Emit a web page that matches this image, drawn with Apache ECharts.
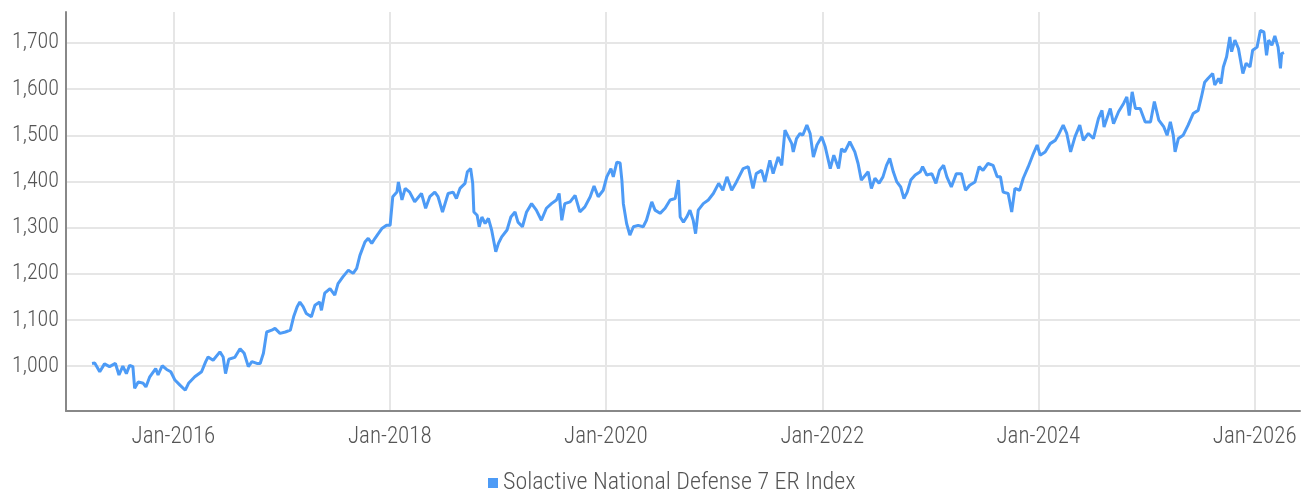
<!DOCTYPE html>
<html>
<head>
<meta charset="utf-8">
<script src="https://cdn.jsdelivr.net/npm/echarts@6/dist/echarts.min.js"></script>
<style>html,body{margin:0;padding:0;background:#fff;}#c{width:1306px;height:492px;}</style>
</head>
<body>
<div id="c"></div>
<script>
const seriesName = 'Solactive National Defense 7 ER Index';
const dates = [
'2015-04-01','2015-04-10','2015-04-27','2015-05-13','2015-05-30','2015-06-19','2015-07-01','2015-07-14','2015-07-26','2015-08-06',
'2015-08-17','2015-08-23','2015-09-04','2015-09-21','2015-09-30','2015-10-13','2015-11-02','2015-11-10','2015-11-24','2015-12-09',
'2015-12-23','2015-12-27','2016-01-06','2016-01-23','2016-02-10','2016-02-21','2016-03-13','2016-04-05','2016-04-19','2016-04-27',
'2016-05-14','2016-06-06','2016-06-17','2016-06-25','2016-07-06','2016-07-26','2016-08-13','2016-08-27','2016-09-10','2016-09-22',
'2016-10-09','2016-10-20','2016-10-31','2016-11-11','2016-11-28','2016-12-09','2016-12-26','2017-01-13','2017-01-30','2017-02-10',
'2017-02-22','2017-03-03','2017-03-14','2017-03-25','2017-04-11','2017-04-23','2017-05-09','2017-05-15','2017-05-26','2017-06-13',
'2017-06-29','2017-07-10','2017-07-27','2017-08-14','2017-08-30','2017-09-11','2017-09-22','2017-10-09','2017-10-20','2017-11-01',
'2017-11-12','2017-11-23','2017-12-05','2017-12-21','2018-01-02','2018-01-11','2018-01-25','2018-01-30','2018-02-11','2018-02-22',
'2018-03-09','2018-03-26','2018-04-18','2018-05-02','2018-05-16','2018-06-02','2018-06-13','2018-06-28','2018-07-17','2018-08-03',
'2018-08-14','2018-08-26','2018-09-12','2018-09-20','2018-10-01','2018-10-08','2018-10-12','2018-10-23','2018-10-30','2018-11-08',
'2018-11-19','2018-11-30','2018-12-11','2018-12-25','2019-01-03','2019-01-14','2019-02-01','2019-02-14','2019-02-28','2019-03-10',
'2019-03-25','2019-04-08','2019-04-25','2019-05-11','2019-05-28','2019-06-14','2019-07-01','2019-07-18','2019-07-27','2019-08-05',
'2019-08-15','2019-09-02','2019-09-19','2019-10-05','2019-10-22','2019-11-09','2019-11-22','2019-12-06','2019-12-23','2020-01-04',
'2020-01-18','2020-01-26','2020-02-07','2020-02-18','2020-02-24','2020-02-29','2020-03-11','2020-03-22','2020-04-03','2020-04-19',
'2020-05-06','2020-05-17','2020-06-04','2020-06-15','2020-07-02','2020-07-19','2020-08-05','2020-08-22','2020-09-02','2020-09-08',
'2020-09-19','2020-09-30','2020-10-11','2020-10-22','2020-10-30','2020-11-08','2020-11-25','2020-12-12','2020-12-29','2021-01-16',
'2021-01-30','2021-02-13','2021-03-01','2021-03-17','2021-04-09','2021-04-26','2021-05-12','2021-05-23','2021-06-10','2021-06-21',
'2021-07-08','2021-07-19','2021-08-05','2021-08-17','2021-08-28','2021-09-08','2021-09-20','2021-09-25','2021-10-06','2021-10-18',
'2021-10-27','2021-11-10','2021-11-21','2021-12-02','2021-12-14','2021-12-30','2022-01-11','2022-01-28','2022-02-09','2022-02-25',
'2022-03-07','2022-03-18','2022-04-04','2022-04-21','2022-05-02','2022-05-13','2022-06-05','2022-06-16','2022-06-28','2022-07-12',
'2022-07-25','2022-08-06','2022-08-17','2022-08-29','2022-09-10','2022-09-23','2022-10-04','2022-10-15','2022-10-27','2022-11-11',
'2022-11-28','2022-12-06','2022-12-20','2023-01-06','2023-01-20','2023-02-01','2023-02-15','2023-02-26','2023-03-13','2023-03-30',
'2023-04-16','2023-04-30','2023-05-14','2023-06-01','2023-06-15','2023-06-28','2023-07-15','2023-08-01','2023-08-15','2023-08-26',
'2023-09-04','2023-09-21','2023-10-03','2023-10-14','2023-10-30','2023-11-11','2023-11-28','2023-12-15','2023-12-28','2024-01-07',
'2024-01-24','2024-02-10','2024-02-27','2024-03-08','2024-03-25','2024-04-06','2024-04-19','2024-05-04','2024-05-20','2024-06-01',
'2024-06-18','2024-07-05','2024-07-22','2024-08-03','2024-08-10','2024-08-31','2024-09-11','2024-09-28','2024-10-15','2024-10-26',
'2024-11-03','2024-11-13','2024-11-24','2024-12-10','2024-12-27','2025-01-14','2025-01-27','2025-02-11','2025-02-28','2025-03-11',
'2025-03-22','2025-04-01','2025-04-07','2025-04-18','2025-05-04','2025-05-21','2025-06-07','2025-06-24','2025-07-05','2025-07-16',
'2025-07-27','2025-08-12','2025-08-19','2025-09-01','2025-09-09','2025-09-17','2025-09-28','2025-10-09','2025-10-15','2025-10-26',
'2025-11-07','2025-11-22','2025-12-03','2025-12-16','2025-12-25','2026-01-09','2026-01-20','2026-02-01','2026-02-10','2026-02-17',
'2026-02-28','2026-03-10','2026-03-21','2026-03-29','2026-04-02','2026-04-10'
];
const values = [
1006,1007,988,1005,999,1006,981,1000,984,1002,
999,952,966,963,955,977,995,981,1001,993,
988,992,970,959,948,963,977,988,1010,1020,
1013,1031,1020,984,1015,1019,1038,1028,999,1010,
1006,1006,1028,1074,1078,1082,1071,1074,1078,1107,
1129,1139,1129,1114,1107,1132,1139,1121,1158,1168,
1154,1179,1194,1208,1201,1212,1240,1269,1277,1266,
1277,1287,1298,1305,1305,1367,1377,1399,1360,1385,
1377,1356,1374,1342,1367,1377,1367,1334,1374,1377,
1363,1385,1396,1421,1428,1396,1334,1327,1302,1323,
1309,1320,1295,1248,1266,1280,1295,1323,1334,1312,
1302,1334,1352,1338,1316,1342,1352,1360,1374,1316,
1352,1356,1370,1334,1345,1367,1390,1367,1381,1410,
1428,1410,1442,1440,1403,1352,1309,1284,1302,1305,
1302,1316,1356,1338,1331,1342,1360,1363,1403,1323,
1312,1323,1338,1316,1287,1338,1352,1360,1374,1396,
1381,1410,1381,1399,1428,1432,1385,1417,1424,1399,
1446,1417,1453,1435,1511,1497,1482,1464,1493,1504,
1500,1522,1504,1453,1479,1497,1475,1428,1457,1428,
1471,1464,1486,1464,1439,1403,1421,1385,1407,1396,
1410,1435,1450,1421,1399,1388,1363,1377,1403,1414,
1421,1432,1414,1417,1396,1424,1435,1410,1388,1417,
1417,1381,1392,1399,1432,1424,1439,1435,1410,1410,
1377,1374,1334,1385,1381,1407,1432,1460,1479,1457,
1464,1482,1489,1500,1522,1504,1464,1497,1522,1489,
1504,1493,1536,1554,1518,1558,1525,1551,1569,1583,
1543,1594,1558,1558,1529,1529,1573,1533,1518,1500,
1529,1500,1464,1493,1500,1522,1547,1554,1583,1615,
1623,1634,1609,1623,1612,1648,1670,1713,1681,1706,
1688,1634,1656,1648,1684,1691,1727,1724,1673,1706,
1695,1715,1691,1645,1677,1679
];
const yTicks = [1000, 1100, 1200, 1300, 1400, 1500, 1600, 1700];
const xTickDates = ['2016-01-01','2018-01-01','2020-01-01','2022-01-01','2024-01-01','2026-01-01'];
const monthNames = ['Jan','Feb','Mar','Apr','May','Jun','Jul','Aug','Sep','Oct','Nov','Dec'];

const FONT = '"Roboto Condensed", "Liberation Sans Narrow", sans-serif';
const toTime = d => new Date(d + 'T00:00:00Z').getTime();
const xTickTimes = xTickDates.map(toTime);
const chart = echarts.init(document.getElementById('c'), null, {renderer: 'canvas'});
chart.setOption({
  animation: false,
  backgroundColor: '#ffffff',
  grid: {left: 66, right: 6, top: 12, bottom: 81, containLabel: false},
  legend: {
    data: [{name: seriesName, icon: 'rect'}],
    bottom: -8, left: 483,
    itemWidth: 10, itemHeight: 10, itemGap: 5,
    textStyle: {fontFamily: FONT, fontWeight: 300, fontSize: 24, color: '#555'}
  },
  xAxis: {
    type: 'value',
    min: toTime('2015-01-03'),
    max: toTime('2026-06-03'),
    axisLine: {show: true, lineStyle: {color: '#888', width: 2}},
    axisTick: {show: false, customValues: xTickTimes},
    splitLine: {show: true, lineStyle: {color: '#e6e6e6', width: 2}},
    axisLabel: {
      customValues: xTickTimes,
      fontFamily: FONT, fontWeight: 300, fontSize: 23, color: '#555', margin: 15,
      formatter: function (v) { const d = new Date(v); return monthNames[d.getUTCMonth()] + '-' + d.getUTCFullYear(); }
    }
  },
  yAxis: {
    type: 'value',
    min: 903, max: 1767,
    axisLine: {show: true, lineStyle: {color: '#888', width: 2}},
    axisTick: {show: false, customValues: yTicks},
    splitLine: {show: true, lineStyle: {color: '#e6e6e6', width: 2}},
    axisLabel: {
      customValues: yTicks,
      fontFamily: FONT, fontWeight: 300, fontSize: 22, color: '#555', margin: 7,
      formatter: function (v) { return v.toLocaleString('en-US'); }
    }
  },
  series: [{
    name: seriesName,
    type: 'line',
    data: dates.map((d, i) => [toTime(d), values[i]]),
    showSymbol: false,
    symbol: 'none',
    lineStyle: {color: '#4d9bf6', width: 3},
    itemStyle: {color: '#4d9bf6'}
  }]
});
</script>
</body>
</html>
